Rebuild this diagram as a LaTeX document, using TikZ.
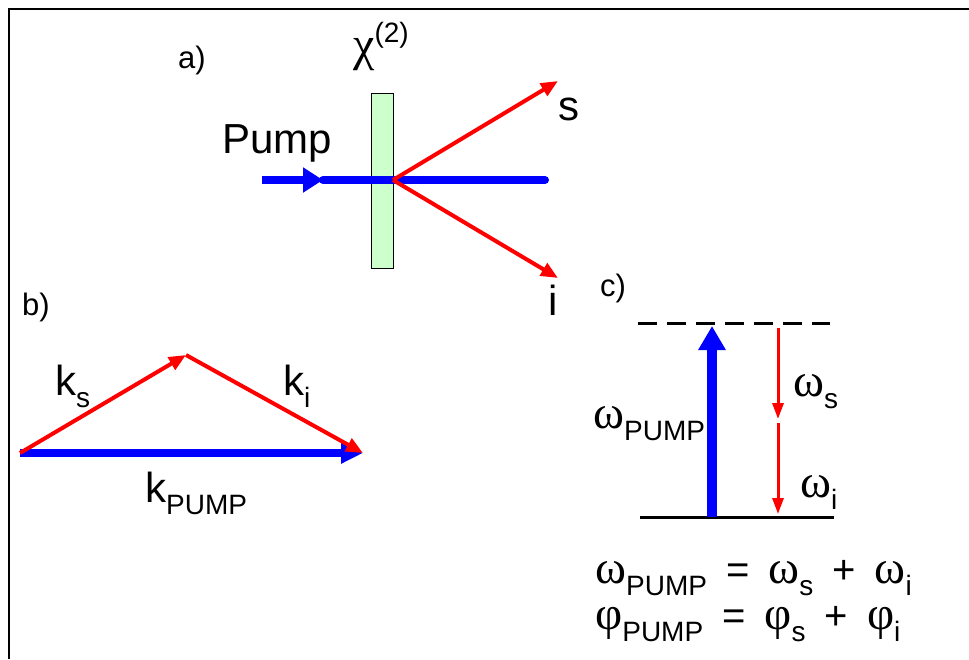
\documentclass[tikz,border=0pt]{standalone}
\usepackage{fontspec}
\setmainfont{Liberation Sans}
\newfontfamily\grk{Liberation Serif}
\usetikzlibrary{arrows.meta}
\newcommand\sbx[1]{\raisebox{-0.3em}{\fontsize{28}{30}\selectfont #1}}
\newcommand\spx[1]{\raisebox{0.42em}{\fontsize{28}{30}\selectfont #1}}
\newcommand\gom{{\grk\fontsize{47}{50}\selectfont ω}}
\newcommand\gph{{\grk\fontsize{47}{50}\selectfont φ}}
\newcommand\gchi{{\grk\fontsize{48}{50}\selectfont χ}}
\newcommand\gap{\hspace{19pt}}
\begin{document}
\begin{tikzpicture}[x=1pt,y=-1pt,
  big/.style={inner sep=0pt, anchor=base west, font=\fontsize{42}{48}\selectfont},
  lbl/.style={inner sep=0pt, anchor=base west, font=\fontsize{31}{34}\selectfont},
  eq/.style={inner sep=0pt, anchor=base west, font=\fontsize{40}{46}\selectfont},
  bluebeam/.style={draw=blue, line width=8pt},
  redbeam/.style={draw=red, line width=4pt, -{Triangle[length=17pt,width=14pt]}},
  redthin/.style={draw=red, line width=3pt, -{Triangle[length=16pt,width=11pt]}},
  crystal/.style={draw=black, line width=0.8pt, fill={rgb,255:red,204;green,255;blue,204}},
  level/.style={draw=black, line width=3pt}]
\useasboundingbox (0,0) rectangle (969,659);
% frame
\draw[line width=2.5pt] (9,659) -- (9,9) -- (969,9);

% ---------- a)
\node[lbl] (la) at (178,68) {a)};
\node[big] (chi) at (353,60) {\gchi\spx{(2)}};
\node[big] (pump) at (222,153) {Pump};
\node[crystal, minimum width=22pt, minimum height=175pt, inner sep=0pt] (cr) at (382,180.5) {};
\coordinate (pin) at (262,180);
\coordinate (pmid) at (323,180);
\coordinate (pout) at (545,180);
\coordinate (vtx) at (393,180);
\coordinate (sEnd) at (558,81);
\coordinate (iEnd) at (558,278);
\draw[bluebeam, line cap=round] (pmid) -- (pout);
\draw[bluebeam, -{Triangle[length=20pt,width=24pt]}] (pin) -- (pmid);
\draw[redbeam] (vtx) -- (sEnd);
\draw[redbeam] (vtx) -- (iEnd);
\node[big] (s) at (558,120) {s};
\node[big] (i) at (548,315) {i};

% ---------- b)
\node[lbl] (lb) at (22,315) {b)};
\coordinate (b0) at (20,453);
\coordinate (b1) at (186,355);
\coordinate (b2) at (363,453);
\draw[bluebeam, -{Triangle[length=22pt,width=20pt]}] (b0) -- (b2);
\draw[redbeam] (b0) -- (b1);
\draw[redbeam] (b1) -- (b2);
\node[big] (ks) at (55,395) {k\sbx{s}};
\node[big] (ki) at (283,395) {k\sbx{i}};
\node[big] (kp) at (145,502) {k\sbx{PUMP}};

% ---------- c)
\node[lbl] (lc) at (600,296) {c)};
\coordinate (d0) at (638,323);
\coordinate (d1) at (830,323);
\coordinate (g0) at (640,517);
\coordinate (g1) at (834,517);
\draw[level, dash pattern=on 19pt off 10pt] (d0) -- (d1);
\draw[level] (g0) -- (g1);
\coordinate (pu0) at (712,517);
\coordinate (pu1) at (712,326);
\draw[draw=blue, line width=10pt, -{Triangle[length=24pt,width=26pt]}] (pu0) -- (pu1);
\coordinate (r0) at (778,328);
\coordinate (r1) at (778,419);
\coordinate (r2) at (778,423);
\coordinate (r3) at (778,514);
\draw[redthin] (r0) -- (r1);
\draw[redthin] (r2) -- (r3);
\node[eq] (wp) at (593,428) {\gom\sbx{PUMP}};
\node[eq] (ws) at (793,396) {\gom\sbx{s}};
\node[eq] (wi) at (800,497) {\gom\sbx{i}};
\node[eq] (e1) at (595,583) {\gom\sbx{PUMP}\gap=\gap\gom\sbx{s}\gap+\gap\gom\sbx{i}};
\node[eq] (e2) at (595,629) {\gph\sbx{PUMP}\gap=\gap\gph\sbx{s}\gap+\gap\gph\sbx{i}};
\end{tikzpicture}
\end{document}
